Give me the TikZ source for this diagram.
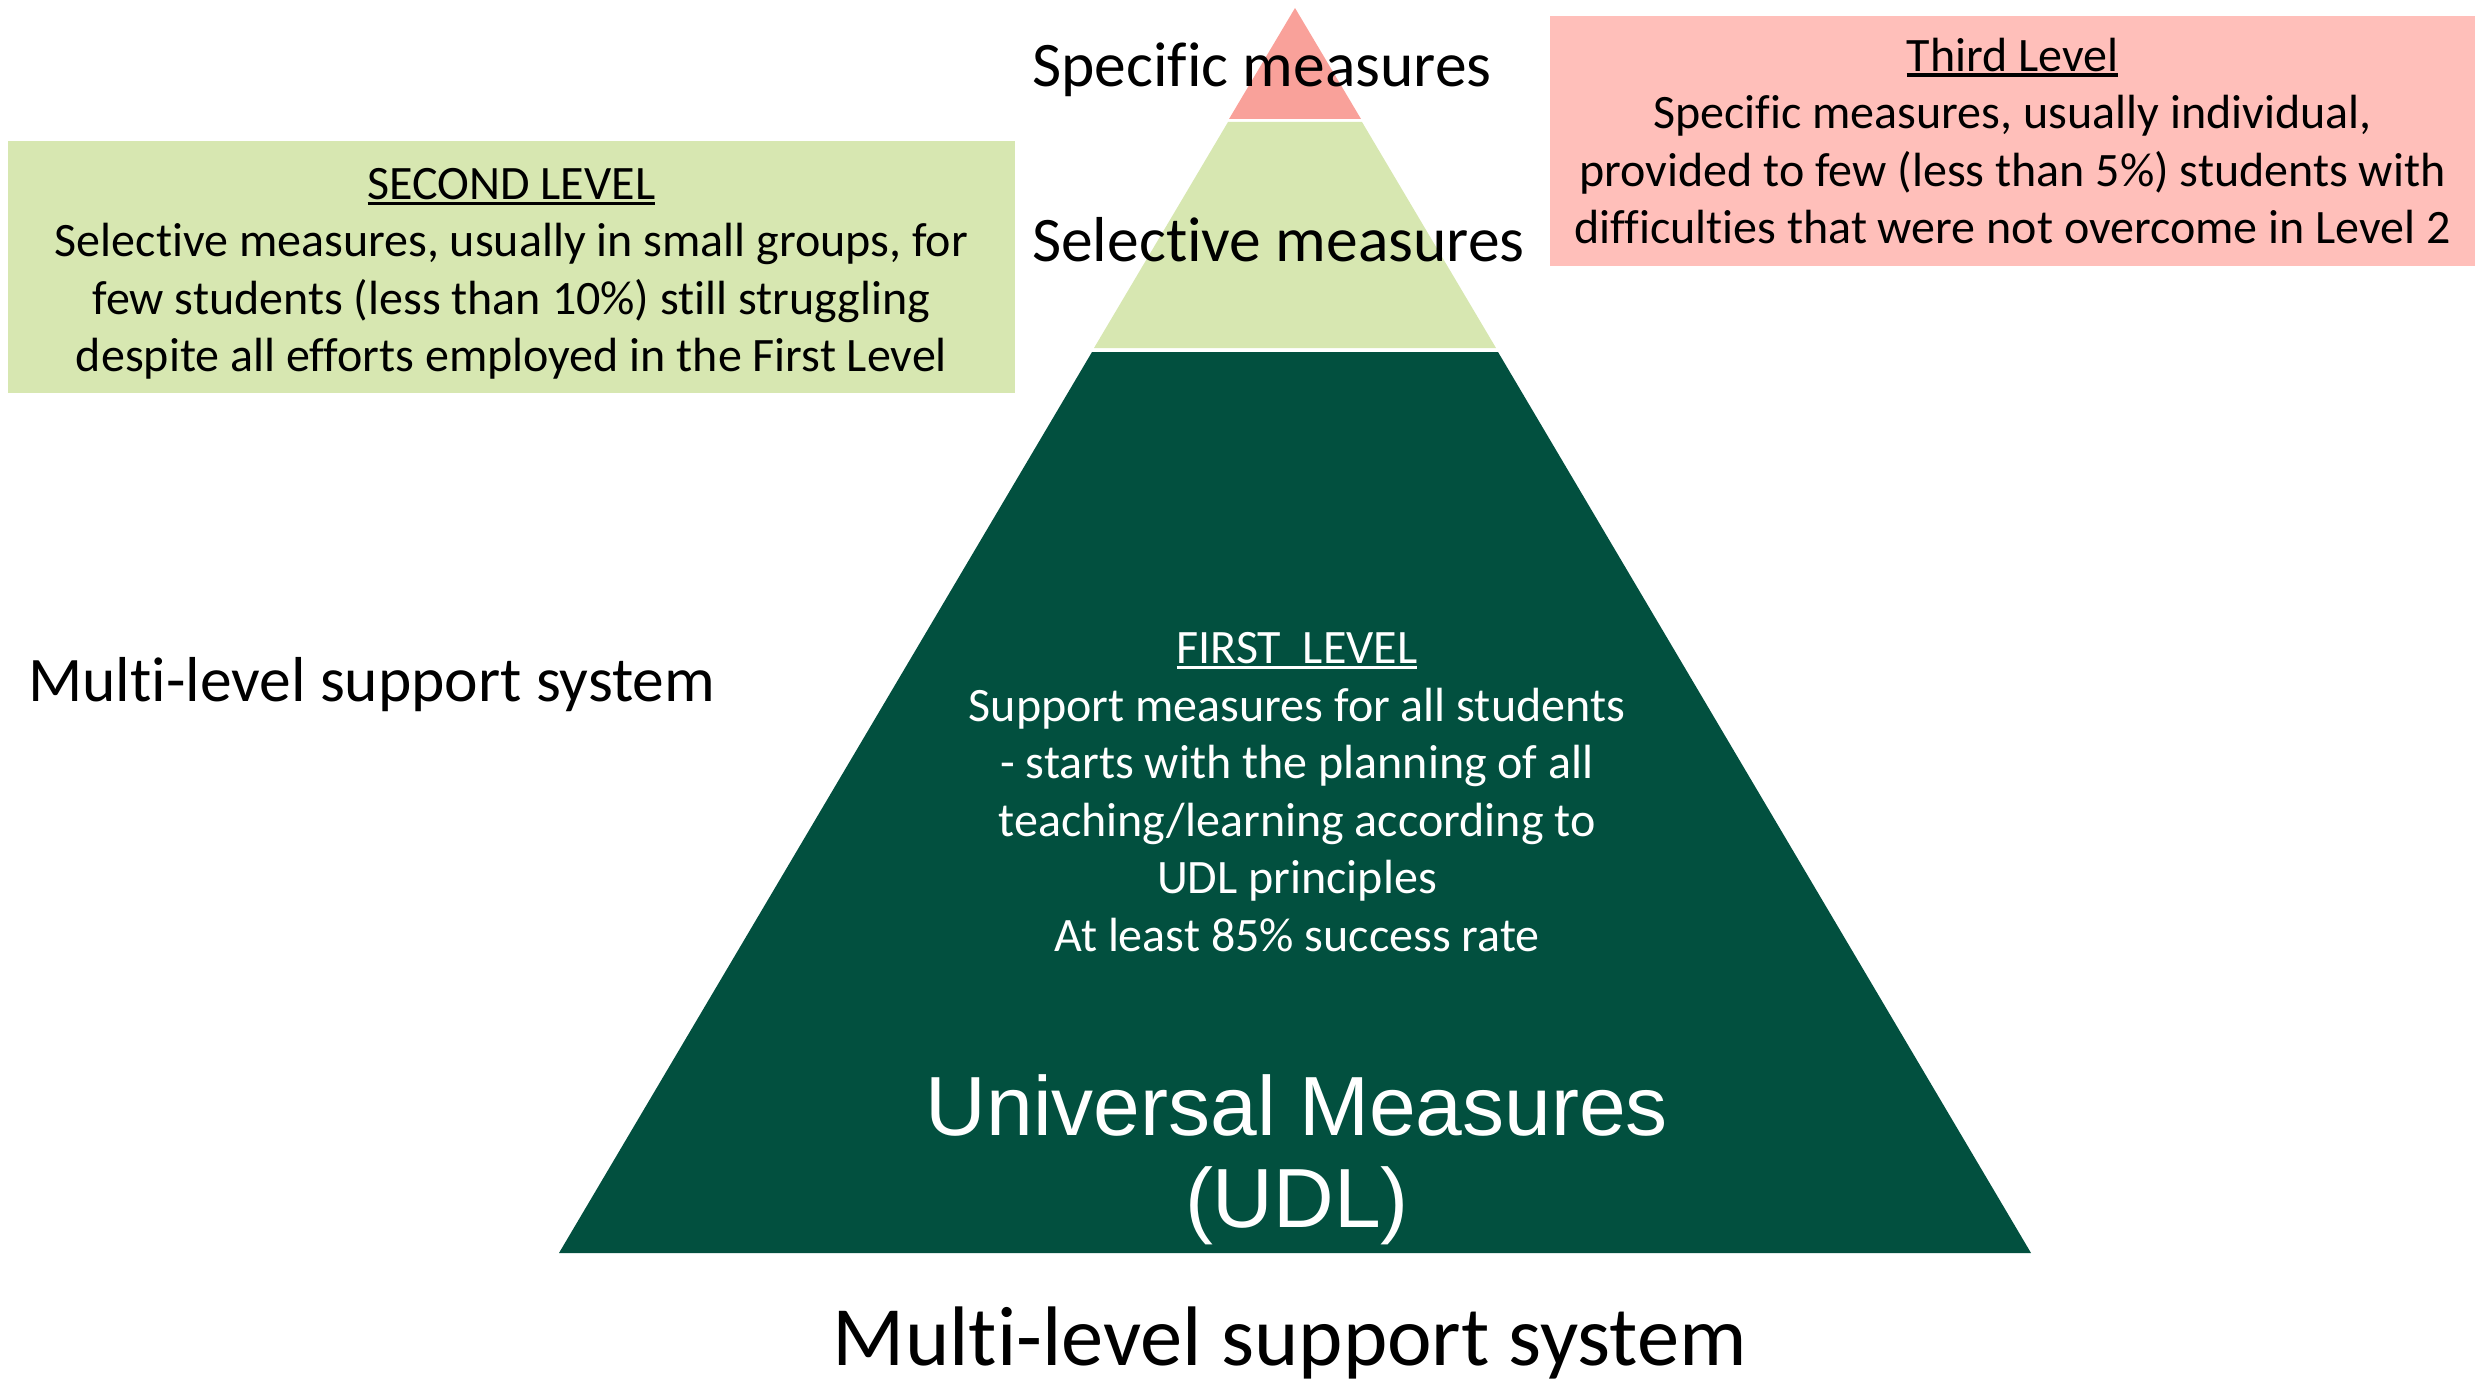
\documentclass[tikz,border=0pt]{standalone}
\usepackage{fontspec}
\setmainfont{Carlito}[Ligatures=NoCommon]
\newfontfamily\arialfont{Liberation Sans}
\definecolor{tipred}{HTML}{F9A19A}
\definecolor{midgreen}{HTML}{D7E7B1}
\definecolor{darkgreen}{HTML}{02503F}
\definecolor{boxgreen}{HTML}{D7E7B1}
\definecolor{boxpink}{HTML}{FFBFBA}
\newcommand\ulhead[1]{\setbox0\hbox{#1}\rlap{\rule[-0.11em]{\wd0}{0.065em}}\box0}
\tikzset{
  boxtext/.style={inner sep=0pt, align=center, font=\fontsize{48pt}{57.5pt}\selectfont},
  infobox/.style={inner sep=0pt, minimum width=#1},
  bigtext/.style={inner sep=0pt, anchor=base west, font=\fontsize{63.5pt}{75pt}\selectfont},
  titletext/.style={inner sep=0pt, anchor=base, font=\fontsize{84.5pt}{100pt}\selectfont},
  udltext/.style={inner sep=0pt, anchor=base, text=white, font=\arialfont\fontsize{84pt}{92pt}\selectfont},
}
\begin{document}
\begin{tikzpicture}[x=1pt,y=-1pt]
\useasboundingbox (0,0) rectangle (2483,1383);
% pyramid tiers
\fill[tipred] (1295,8) -- (1361,119) -- (1229,119) -- cycle;
\fill[midgreen] (1228,122) -- (1362,122) -- (1496,348) -- (1094,348) -- cycle;
\fill[darkgreen] (1092,352) -- (1498,352) -- (2031,1253) -- (559,1253) -- cycle;
% side boxes
\node[infobox=1007pt, minimum height=252pt, fill=boxgreen] (secondbox) at (511.5,267) {};
\node[boxtext] (second) at (511.5,274)
  {\ulhead{SECOND LEVEL}\\Selective measures, usually in small groups, for\\few students (less than 10\%) still struggling\\despite all efforts employed in the First Level};
\node[infobox=925pt, minimum height=250pt, fill=boxpink] (thirdbox) at (2012.5,141) {};
\node[boxtext] (third) at (2012.5,141)
  {\ulhead{Third Level}\\Specific measures, usually individual,\\provided to few (less than 5\%) students with\\difficulties that were not overcome in Level 2};
% tier labels
\node[bigtext] (specific) at (1032,87) {Specific measures};
\node[bigtext] (selective) at (1032,261) {Selective measures};
\node[bigtext] (leftlabel) at (28,701) {Multi-level support system};
% first level text
\node[boxtext, text=white] (first) at (1297,792)
  {\ulhead{FIRST\ \ LEVEL}\\Support measures for all students\\- starts with the planning of all\\teaching/learning according to\\UDL principles\\At least 85\% success rate};
\node[udltext] (univ) at (1297,1135) {Universal Measures};
\node[udltext] (udl) at (1297,1227) {(UDL)};
% bottom title
\node[titletext] (title) at (1290,1365) {Multi-level support system};
\end{tikzpicture}
\end{document}
